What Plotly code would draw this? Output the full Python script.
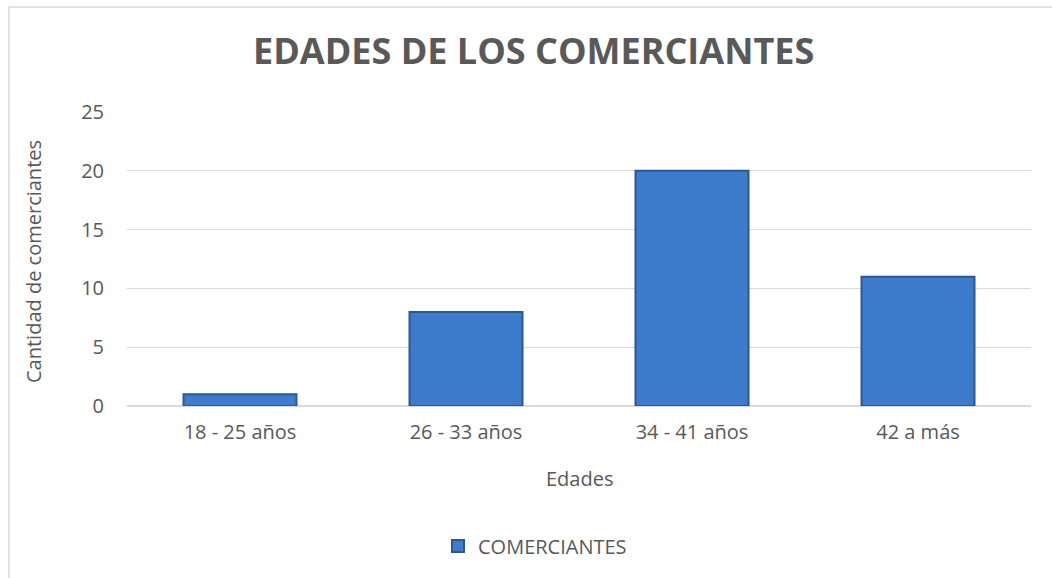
import plotly.graph_objects as go

categories = ["18 - 25 años", "26 - 33 años", "34 - 41 años", "42 a más"]
values = [1, 8, 20, 11]
series_name = "COMERCIANTES"
title_text = "EDADES DE LOS COMERCIANTES"
y_title = "Cantidad de comerciantes"
x_title = "Edades"

W, H = 1052, 578
L, R, T, B = 127, 21, 112, 172
PW, PH = W - L - R, H - T - B

fig = go.Figure()
fig.add_trace(go.Bar(
    x=categories, y=values, name=series_name,
    marker=dict(color="#3d7bcb", line=dict(color="#2b5894", width=2)),
))

fig.update_layout(
    width=W, height=H,
    margin=dict(l=L, r=R, t=T, b=B),
    plot_bgcolor="white", paper_bgcolor="white",
    bargap=0.5,
    font=dict(family="Open Sans", color="#595959", size=19),
    showlegend=True,
    legend=dict(orientation="h", x=(535 - L) / PW, xanchor="center", y=(406 - 546) / PH,
                yanchor="middle", itemwidth=30, font=dict(size=20, color="#595959")),
    xaxis=dict(showgrid=False, showline=False, ticks="", ticklabelstandoff=12,
               tickfont=dict(size=20, color="#595959")),
    yaxis=dict(range=[0, 25], dtick=5, showgrid=True, gridcolor="#d9d9d9", gridwidth=1,
               zeroline=True, zerolinecolor="#d9d9d9", zerolinewidth=1.5,
               showline=False, ticks="", ticklabelstandoff=22,
               tickfont=dict(size=20, color="#595959")),
    shapes=[dict(type="rect", xref="paper", yref="paper",
                 x0=(9 - L) / PW, x1=(1060 - L) / PW,
                 y0=(H - B - 590) / PH, y1=(H - B - 7) / PH,
                 line=dict(color="#d9d9d9", width=1.5), fillcolor="rgba(0,0,0,0)",
                 layer="below")],
    annotations=[
        dict(text="<b>" + title_text + "</b>", xref="paper", yref="paper",
             x=(533 - L) / PW, y=(H - B - 50) / PH,
             xanchor="center", yanchor="middle", showarrow=False,
             font=dict(size=36, color="#595959", family="Open Sans")),
        dict(text=x_title, xref="paper", yref="paper",
             x=(579 - L) / PW, y=(H - B - 478) / PH,
             xanchor="center", yanchor="middle", showarrow=False,
             font=dict(size=20, color="#595959")),
        dict(text=y_title, xref="paper", yref="paper",
             x=(33 - L) / PW, y=(H - B - 262) / PH, textangle=-90,
             xanchor="center", yanchor="middle", showarrow=False,
             font=dict(size=20, color="#595959")),
    ],
)

fig.write_html("out.html", config={"displayModeBar": False},
               post_script="document.body.style.margin='0';document.body.style.overflow='hidden';")
